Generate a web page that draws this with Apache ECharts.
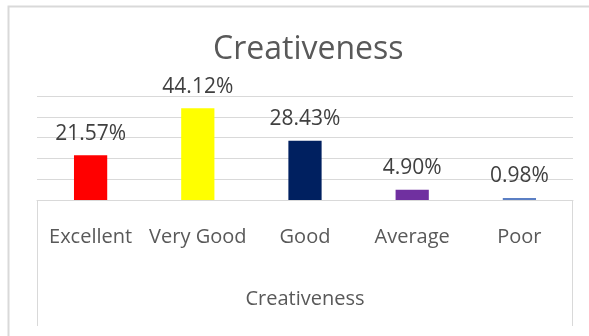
<!DOCTYPE html>
<html>
<head>
<meta charset="utf-8">
<script src="https://cdn.jsdelivr.net/npm/echarts@6/dist/echarts.min.js"></script>
<style>
  html, body { margin: 0; padding: 0; background: #ffffff; }
  #chart { width: 589px; height: 336px; }
</style>
</head>
<body>
<div id="chart"></div>
<script>
// Creativeness ratings, share of respondents (%)
const categories = ['Excellent', 'Very Good', 'Good', 'Average', 'Poor'];
const values = [21.57, 44.12, 28.43, 4.90, 0.98];
const barColors = ['#ff0000', '#ffff00', '#002060', '#7030a0', '#5b7fc4'];

const FONT = '"Open Sans", "Liberation Sans", sans-serif';
const GRID = { left: 37, right: 16, top: 96, bottom: 136 };
const W = 589, H = 336;

const chart = echarts.init(document.getElementById('chart'), null, { renderer: 'canvas' });

chart.setOption({
  animation: false,
  backgroundColor: '#ffffff',
  title: {
    text: 'Creativeness',
    left: 208,
    top: 29,
    textStyle: { fontFamily: FONT, fontSize: 32, fontWeight: 'normal', color: '#595959' }
  },
  grid: GRID,
  xAxis: {
    type: 'category',
    data: categories,
    name: 'Creativeness',
    nameLocation: 'middle',
    nameGap: 89,
    nameTextStyle: { fontFamily: FONT, fontSize: 20, color: '#595959' },
    axisLine: { show: true, lineStyle: { color: '#d9d9d9', width: 1 } },
    axisTick: { show: false },
    axisLabel: { fontFamily: FONT, fontSize: 20, color: '#595959', margin: 27, interval: 0 }
  },
  yAxis: {
    type: 'value',
    min: 0,
    max: 50,
    interval: 10,
    axisLabel: { show: false },
    axisLine: { show: false },
    axisTick: { show: false },
    splitLine: { lineStyle: { color: '#d9d9d9', width: 1 } }
  },
  series: [{
    type: 'bar',
    data: values.map((v, i) => ({ value: v, itemStyle: { color: barColors[i] } })),
    barWidth: '31%',
    label: {
      show: true,
      position: 'top',
      distance: 11,
      formatter: p => p.value.toFixed(2) + '%',
      fontFamily: FONT,
      fontSize: 21,
      color: '#404040'
    }
  }],
  graphic: [
    // outer chart border
    {
      type: 'polyline',
      shape: { points: [[8.5, H], [8.5, 6.5], [W, 6.5]] },
      style: { stroke: '#d9d9d9', lineWidth: 2, fill: null },
      silent: true
    },
    // side rules of the category band
    {
      type: 'line',
      shape: { x1: GRID.left + 0.5, y1: H - GRID.bottom, x2: GRID.left + 0.5, y2: 326 },
      style: { stroke: '#d9d9d9', lineWidth: 1 },
      silent: true
    },
    {
      type: 'line',
      shape: { x1: W - GRID.right - 0.5, y1: H - GRID.bottom, x2: W - GRID.right - 0.5, y2: 326 },
      style: { stroke: '#d9d9d9', lineWidth: 1 },
      silent: true
    }
  ]
});
</script>
</body>
</html>
